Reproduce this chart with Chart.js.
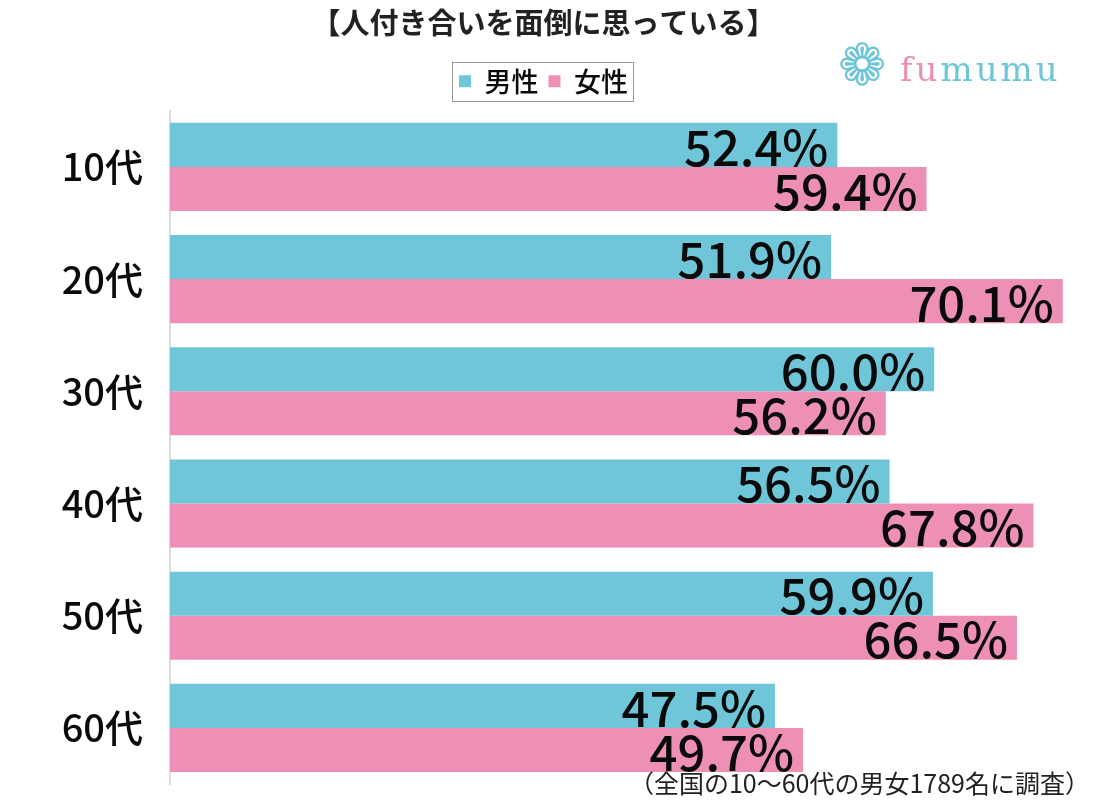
<!DOCTYPE html>
<html>
<head>
<meta charset="utf-8">
<script src="https://cdn.jsdelivr.net/npm/chart.js@4"></script>
<style>
  html, body { margin: 0; padding: 0; background: #fff; }
  #wrap { width: 1102px; height: 800px; position: relative; }
</style>
</head>
<body>
<div id="wrap"><canvas id="myChart" width="1102" height="800"></canvas></div>
<script>
const ages = ["10代", "20代", "30代", "40代", "50代", "60代"];
const male = [52.4, 51.9, 60.0, 56.5, 59.9, 47.5];
const female = [59.4, 70.1, 56.2, 67.8, 66.5, 49.7];
const seriesNames = ["男性", "女性"];
const titleText = "【人付き合いを面倒に思っている】";
const noteText = "（全国の10〜60代の男女1789名に調査）";

const jpFont = "'Noto Sans CJK JP', 'Noto Sans', sans-serif";

// value labels at the end of each bar, plus legend border, logo and footnote
const extras = {
    id: "extras",
    beforeLayout(chart) {
        // a bit more room under the legend
        const lg = chart.legend;
        if (lg && !lg._patched) {
            const fit = lg.fit.bind(lg);
            lg.fit = function () { fit(); this.height += 6; };
            lg._patched = true;
        }
    },
    afterDatasetsDraw(chart) {
        const ctx = chart.ctx;
        ctx.save();
        ctx.font = "500 49px " + jpFont;
        ctx.fillStyle = "#0a0a0a";
        ctx.textAlign = "right";
        ctx.textBaseline = "middle";
        chart.data.datasets.forEach((ds, i) => {
            chart.getDatasetMeta(i).data.forEach((bar, j) => {
                ctx.fillText(ds.data[j].toFixed(1) + "%", bar.x - 9, bar.y + 2);
            });
        });
        ctx.restore();
    },
    afterDraw(chart) {
        const ctx = chart.ctx;
        const boxes = chart.legend.legendHitBoxes;
        ctx.save();
        if (boxes && boxes.length) {
            const first = boxes[0], last = boxes[boxes.length - 1];
            const l = Math.round(first.left) - 7, r = Math.round(last.left + last.width) + 5;
            const t = Math.round(first.top) - 6;
            ctx.strokeStyle = "#999";
            ctx.lineWidth = 1;
            ctx.strokeRect(l + 0.5, t + 0.5, r - l, 39);
        }

        // logo
        ctx.font = "58px 'DejaVu Sans'";
        ctx.fillStyle = "#6fc6d9";
        ctx.textBaseline = "middle";
        ctx.textAlign = "center";
        ctx.fillText("❁", 862, 70);
        ctx.font = "34px 'DejaVu Serif', 'Liberation Serif', serif";
        ctx.textAlign = "left";
        const letters = ["f", "u", "m", "u", "m", "u"];
        const cols = ["#ec8fb4", "#ec8fb4", "#6fc6d9", "#6fc6d9", "#6fc6d9", "#6fc6d9"];
        let x = 900;
        letters.forEach((l, k) => {
            ctx.fillStyle = cols[k];
            ctx.fillText(l, x, 72);
            x += ctx.measureText(l).width + 3;
        });

        // footnote
        ctx.font = "25px " + jpFont;
        ctx.fillStyle = "#222";
        ctx.textAlign = "right";
        ctx.fillText(noteText, 1090, 783);
        ctx.restore();
    }
};

new Chart("myChart", {
    type: "bar",
    data: {
        labels: ages,
        datasets: [{
            label: seriesNames[0],
            data: male,
            backgroundColor: "#6fc6d9",
            categoryPercentage: 0.785,
            barPercentage: 1.0
        }, {
            label: seriesNames[1],
            data: female,
            backgroundColor: "#ee90b6",
            categoryPercentage: 0.785,
            barPercentage: 1.0
        }]
    },
    options: {
        indexAxis: "y",
        responsive: false,
        animation: false,
        layout: { padding: { left: 0, right: 15, top: 6, bottom: 16 } },
        scales: {
            x: {
                min: 0,
                max: 72,
                display: false
            },
            y: {
                grid: { display: false },
                border: { display: true, color: "#dcdcdc", width: 2 },
                ticks: {
                    color: "#0a0a0a",
                    font: { family: jpFont, size: 38, weight: "500" },
                    padding: 19
                },
                afterFit(scale) {
                    scale.width = 170;
                    scale.paddingTop = 0;
                    scale.paddingBottom = 0;
                }
            }
        },
        plugins: {
            title: {
                display: true,
                text: titleText,
                color: "#222",
                font: { family: jpFont, size: 29, weight: "bold" },
                padding: { top: 0, bottom: 17 }
            },
            legend: {
                display: true,
                labels: {
                    color: "#0a0a0a",
                    boxWidth: 12,
                    boxHeight: 12,
                    padding: 10,
                    font: { family: jpFont, size: 27, weight: "500" }
                }
            },
            tooltip: { enabled: false }
        }
    },
    plugins: [extras]
});
</script>
</body>
</html>
